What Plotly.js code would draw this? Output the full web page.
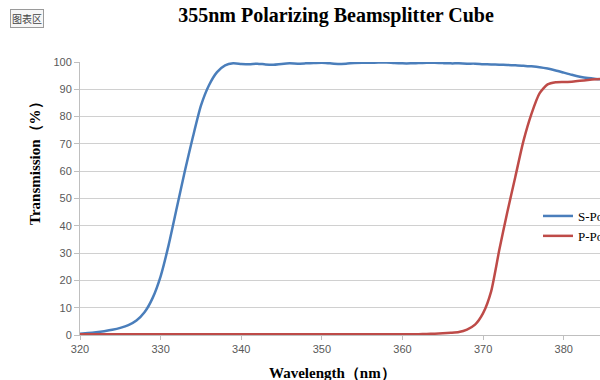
<!DOCTYPE html>
<html>
<head>
<meta charset="utf-8">
<script src="https://cdn.plot.ly/plotly-3.0.1.min.js"></script>
<style>
  html, body { margin: 0; padding: 0; background: #fff; overflow: hidden; }
  #chart { width: 600px; height: 380px; }
</style>
</head>
<body>
<div id="chart"></div>
<script>
// Wavelength grid (nm)
const wavelength = [
  320, 321, 322, 323, 324, 325, 326, 327, 328, 329,
  330, 331, 332, 333, 334, 335, 336, 337, 338, 339,
  340, 341, 342, 343, 344, 345, 346, 347, 348, 349,
  350, 351, 352, 353, 354, 355, 356, 357, 358, 359,
  360, 361, 362, 363, 364, 365, 366, 367, 368, 369,
  370, 371, 372, 373, 374, 375, 376, 377, 378, 379,
  380, 381, 382, 383, 384, 385
];

// S-polarized transmission (%)
const sPol = [
  0.5, 0.7, 1.0, 1.4, 1.9, 2.6, 3.6, 5.3, 8.3, 13.5,
  21.5, 33.0, 46.5, 60.0, 72.5, 84.0, 91.5, 96.3, 98.8, 99.5,
  99.3, 99.2, 99.4, 99.1, 99.0, 99.3, 99.5, 99.4, 99.5, 99.6,
  99.7, 99.5, 99.3, 99.4, 99.6, 99.7, 99.7, 99.8, 99.8, 99.6,
  99.5, 99.5, 99.6, 99.7, 99.7, 99.6, 99.5, 99.5, 99.4, 99.4,
  99.2, 99.1, 99.0, 98.9, 98.8, 98.6, 98.4, 98.1, 97.6, 96.9,
  96.1, 95.3, 94.6, 94.1, 93.8, 93.6
];

// P-polarized transmission (%)
const pPol = [
  0.3, 0.3, 0.3, 0.3, 0.3, 0.3, 0.3, 0.3, 0.3, 0.3,
  0.3, 0.3, 0.3, 0.3, 0.3, 0.3, 0.3, 0.3, 0.3, 0.3,
  0.3, 0.3, 0.3, 0.3, 0.3, 0.3, 0.3, 0.3, 0.3, 0.3,
  0.3, 0.3, 0.3, 0.3, 0.3, 0.3, 0.3, 0.3, 0.3, 0.3,
  0.3, 0.3, 0.3, 0.4, 0.5, 0.6, 0.8, 1.1, 2.0, 3.8,
  8.0, 16.0, 31.0, 45.0, 58.0, 71.0, 81.0, 88.5, 91.8, 92.6,
  92.7, 92.8, 93.1, 93.4, 93.7, 93.9
];

const seriesNames = ['S-Pol', 'P-Pol'];
const xTicks = [320, 330, 340, 350, 360, 370, 380];
const yTicks = [0, 10, 20, 30, 40, 50, 60, 70, 80, 90, 100];

const tickFont = { family: 'Liberation Sans, Arial, sans-serif', size: 11, color: '#595959' };
const serifBold = 'Liberation Serif, Times New Roman, serif';

const traces = [
  {
    x: wavelength, y: sPol, name: seriesNames[0], type: 'scatter', mode: 'lines',
    line: { color: '#4a7ebb', width: 2.5, shape: 'spline', smoothing: 0.6 }
  },
  {
    x: wavelength, y: pPol, name: seriesNames[1], type: 'scatter', mode: 'lines',
    line: { color: '#be4b48', width: 2.5, shape: 'spline', smoothing: 0.6 }
  }
];

const layout = {
  width: 600, height: 380,
  margin: { l: 80, r: 0, t: 62, b: 45, autoexpand: false },
  paper_bgcolor: '#ffffff', plot_bgcolor: '#ffffff',
  title: {
    text: '<b>355nm Polarizing Beamsplitter Cube</b>',
    font: { family: serifBold, size: 20, color: '#000' },
    x: 336 / 600, xanchor: 'center', xref: 'container',
    y: 1 - 15 / 380, yanchor: 'middle', yref: 'container'
  },
  xaxis: {
    range: [320, 384.5], tickvals: xTicks, ticktext: xTicks.map(String),
    showgrid: false, zeroline: false, showline: true, linecolor: '#bfbfbf', linewidth: 1,
    ticks: 'outside', ticklen: 4, tickcolor: '#bfbfbf', tickfont: tickFont, fixedrange: true
  },
  yaxis: {
    range: [0, 100], tickvals: yTicks, ticktext: yTicks.map(String),
    showgrid: true, gridcolor: '#d0d0d0', gridwidth: 1, zeroline: false,
    showline: true, linecolor: '#bfbfbf', linewidth: 1,
    ticks: 'outside', ticklen: 5, tickcolor: '#bfbfbf', tickfont: tickFont, fixedrange: true
  },
  showlegend: true,
  legend: {
    x: (538 - 80) / 520, xanchor: 'left', y: (335 - 201) / 273, yanchor: 'top',
    bgcolor: 'rgba(0,0,0,0)', borderwidth: 0, itemwidth: 30,
    font: { family: serifBold, size: 13, color: '#000' }
  },
  annotations: [
    {
      text: '<b>Wavelength（nm）</b>', xref: 'paper', yref: 'paper',
      x: (332 - 80) / 520, y: -38 / 273, xanchor: 'center', yanchor: 'middle',
      showarrow: false, font: { family: serifBold, size: 15, color: '#000' }
    },
    {
      text: '<b>Transmission（%）</b>', xref: 'paper', yref: 'paper',
      x: (35 - 80) / 520, y: (335 - 160) / 273, xanchor: 'center', yanchor: 'middle',
      textangle: -90, showarrow: false, font: { family: serifBold, size: 15, color: '#000' }
    },
    {
      text: '图表区', xref: 'paper', yref: 'paper',
      x: (27 - 80) / 520, y: (335 - 19) / 273, xanchor: 'center', yanchor: 'middle',
      showarrow: false, font: { family: 'Noto Sans CJK SC, sans-serif', size: 10, color: '#444' },
      bgcolor: '#f7f7f7', bordercolor: '#9a9a9a', borderwidth: 1, borderpad: 1
    }
  ]
};

Plotly.newPlot('chart', traces, layout, { displayModeBar: false, staticPlot: true });
</script>
</body>
</html>
